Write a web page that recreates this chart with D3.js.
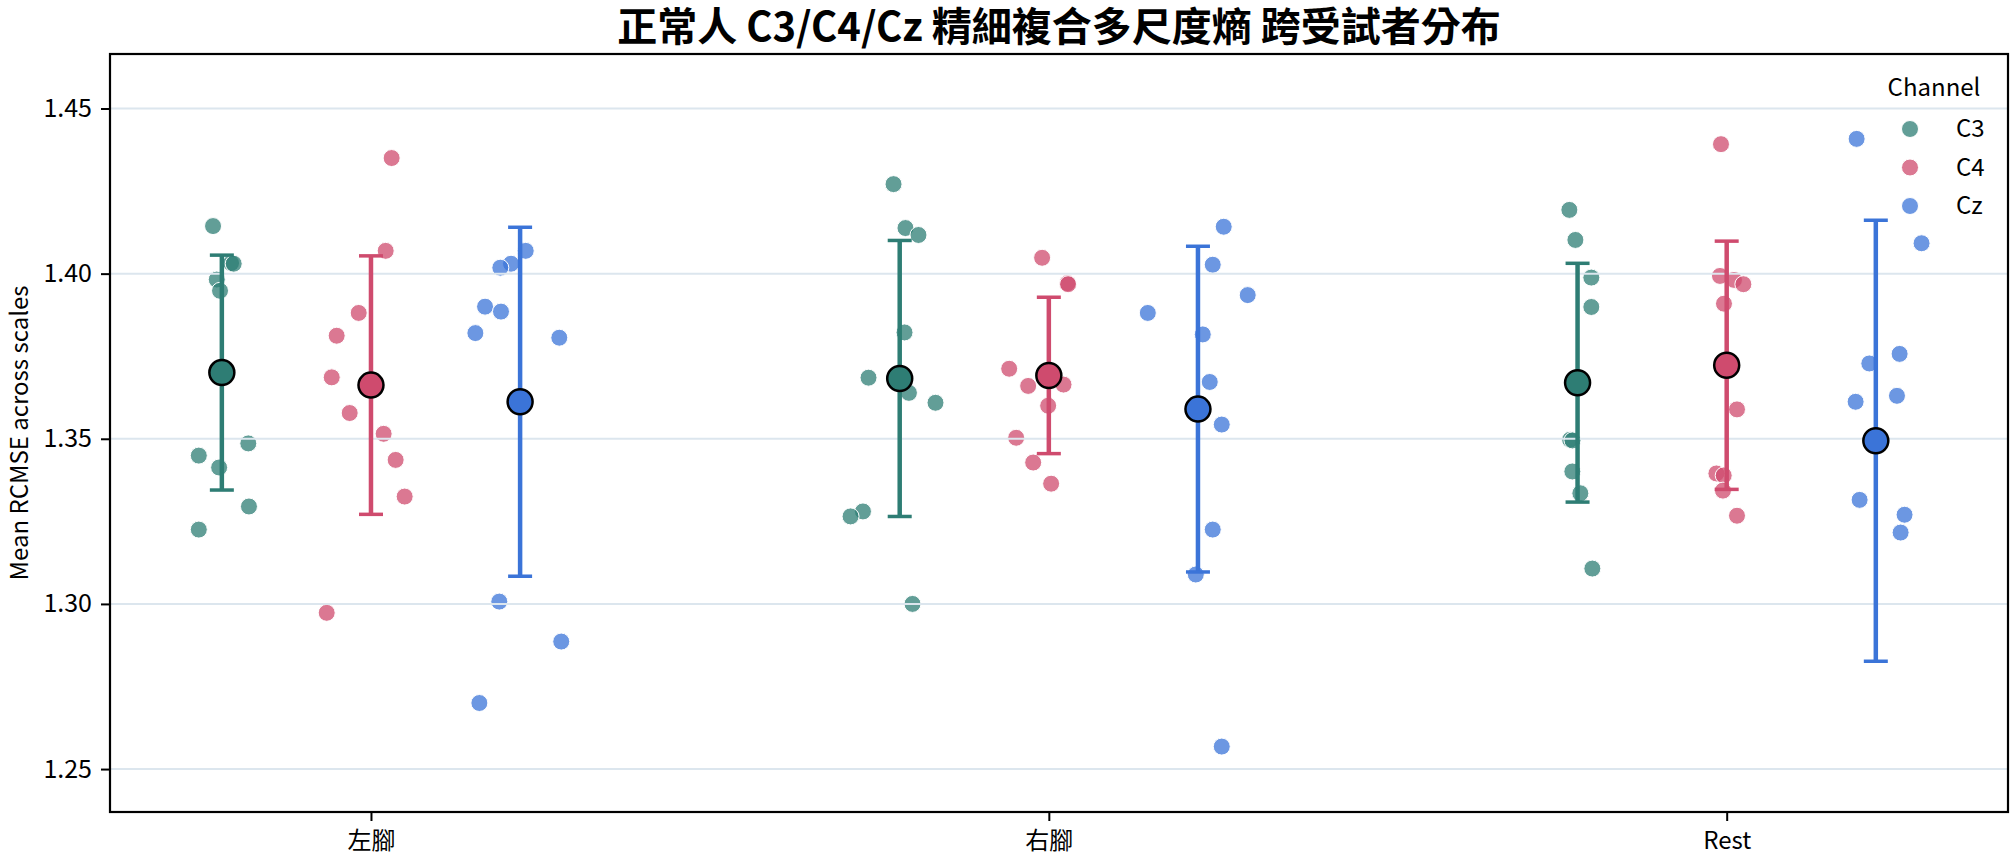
<!DOCTYPE html>
<html>
<head>
<meta charset="utf-8">
<script src="https://cdn.jsdelivr.net/npm/d3@7"></script>
<style>
  body { margin: 0; background: #fff; }
  svg { font-family: "Noto Sans CJK TC", "Noto Sans", sans-serif; }
</style>
</head>
<body>
<div id="chart"></div>
<script>
// categories / series
const categories = ['左腳', '右腳', 'Rest']
const channels = ['C3', 'C4', 'Cz']
const channelColors = ['#2e7d74', '#cf4b6e', '#3b74d8']

// per-subject values, one inner array per category
const c3Values = [
  [1.4144, 1.4032, 1.4030, 1.3982, 1.3948, 1.3486, 1.3449, 1.3413, 1.3295, 1.3225],
  [1.4271, 1.4138, 1.4117, 1.3822, 1.3685, 1.3639, 1.3609, 1.3280, 1.3265, 1.3000],
  [1.4193, 1.4102, 1.3988, 1.3899, 1.3497, 1.3495, 1.3401, 1.3335, 1.3107, 1.3681]
]
const c4Values = [
  [1.4350, 1.4069, 1.3881, 1.3812, 1.3686, 1.3578, 1.3515, 1.3436, 1.3325, 1.2973],
  [1.4048, 1.3971, 1.3968, 1.3712, 1.3660, 1.3664, 1.3600, 1.3503, 1.3428, 1.3364],
  [1.4392, 1.3993, 1.3981, 1.3968, 1.3909, 1.3589, 1.3395, 1.3389, 1.3343, 1.3267]
]
const czValues = [
  [1.4069, 1.4030, 1.4018, 1.3900, 1.3885, 1.3820, 1.3806, 1.3007, 1.2886, 1.2700],
  [1.4142, 1.4027, 1.3935, 1.3881, 1.3816, 1.3672, 1.3543, 1.3225, 1.3089, 1.2568],
  [1.4408, 1.4092, 1.3757, 1.3728, 1.3630, 1.3612, 1.3315, 1.3270, 1.3216, 1.1912]
]

// strip jitter (category units)
const c3Jitter = [
  [-0.013, 0.0136, 0.0175, -0.0075, -0.0027, 0.039, -0.034, -0.004, 0.040, -0.034],
  [-0.0091, 0.0085, 0.0277, 0.0071, -0.046, 0.0136, 0.0528, -0.0542, -0.0725, 0.0189],
  [-0.0121, -0.0032, 0.0203, 0.0203, -0.011, -0.0075, -0.0077, 0.0041, 0.0218, 0.003]
]
const c4Jitter = [
  [0.0305, 0.0217, -0.0181, -0.0506, -0.0579, -0.0314, 0.0187, 0.0364, 0.0497, -0.0653],
  [-0.0099, 0.0276, 0.0284, -0.0585, -0.0305, 0.0217, -0.001, -0.0482, -0.0231, 0.0034],
  [-0.0084, -0.0099, 0.0108, 0.0246, -0.004, 0.0152, -0.0152, -0.0044, -0.0055, 0.0152]
]
const czJitter = [
  [0.0083, -0.0134, -0.0292, -0.0517, -0.0282, -0.066, 0.0578, -0.0307, 0.0607, -0.0601],
  [0.038, 0.0218, 0.0734, -0.074, 0.0071, 0.0174, 0.0351, 0.0218, -0.0032, 0.0351],
  [-0.0283, 0.0675, 0.0351, -0.0096, 0.0312, -0.0298, -0.0239, 0.0424, 0.0366, 0.0]
]

const yTicks = [1.25, 1.30, 1.35, 1.40, 1.45]

const allValues = [c3Values, c4Values, czValues]
const allJitter = [c3Jitter, c4Jitter, czJitter]

let width = 2015
let height = 864
let margin = {top: 54, right: 7, bottom: 52, left: 110}
let dodge = 0.22

let svg = d3.select('#chart').append('svg')
  .attr('width', width)
  .attr('height', height)

let x = d3.scaleLinear()
  .domain([-0.385, 2.415])
  .range([margin.left, width - margin.right])

let y = d3.scaleLinear()
  .domain([1.237, 1.4665])
  .range([height - margin.bottom, margin.top])

svg.append('clipPath').attr('id', 'plotClip')
  .append('rect')
  .attr('x', margin.left).attr('y', margin.top)
  .attr('width', width - margin.left - margin.right)
  .attr('height', height - margin.top - margin.bottom)

let plot = svg.append('g').attr('clip-path', 'url(#plotClip)')

// flatten to point records
let points = []
let summary = []
channels.forEach(function (ch, ci) {
  categories.forEach(function (cat, ki) {
    let vals = allValues[ci][ki]
    vals.forEach(function (v, i) {
      points.push({ci: ci, ki: ki, v: v, j: allJitter[ci][ki][i]})
    })
    let m = d3.mean(vals)
    let sd = d3.deviation(vals)
    summary.push({ci: ci, ki: ki, mean: m, lo: m - sd, hi: m + sd})
  })
})

// strip points (under the grid, like matplotlib)
plot.append('g')
  .selectAll('circle')
  .data(points)
  .enter().append('circle')
  .attr('cx', function (d) { return x(d.ki + (d.ci - 1) * dodge + d.j) })
  .attr('cy', function (d) { return y(d.v) })
  .attr('r', 8.5)
  .attr('fill', function (d) { return channelColors[d.ci] })
  .attr('fill-opacity', 0.75)
  .attr('stroke', '#fff')
  .attr('stroke-width', 1)

// grid
plot.append('g')
  .selectAll('line')
  .data(yTicks)
  .enter().append('line')
  .attr('x1', margin.left).attr('x2', width - margin.right)
  .attr('y1', function (d) { return y(d) }).attr('y2', function (d) { return y(d) })
  .attr('stroke', '#dce6ee')
  .attr('stroke-width', 2)

// error bars (mean ± SD)
let eb = plot.append('g')
  .selectAll('g')
  .data(summary)
  .enter().append('g')
  .attr('stroke', function (d) { return channelColors[d.ci] })

eb.append('line')
  .attr('x1', function (d) { return x(d.ki + (d.ci - 1) * dodge) })
  .attr('x2', function (d) { return x(d.ki + (d.ci - 1) * dodge) })
  .attr('y1', function (d) { return y(d.lo) })
  .attr('y2', function (d) { return y(d.hi) })
  .attr('stroke-width', 4.5)

eb.selectAll('.cap')
  .data(function (d) { return [d, Object.assign({}, d, {lo: d.hi})] })
  .enter().append('line')
  .attr('class', 'cap')
  .attr('x1', function (d) { return x(d.ki + (d.ci - 1) * dodge) - 12 })
  .attr('x2', function (d) { return x(d.ki + (d.ci - 1) * dodge) + 12 })
  .attr('y1', function (d) { return y(d.lo) })
  .attr('y2', function (d) { return y(d.lo) })
  .attr('stroke-width', 3.5)

// mean markers
plot.append('g')
  .selectAll('circle')
  .data(summary)
  .enter().append('circle')
  .attr('cx', function (d) { return x(d.ki + (d.ci - 1) * dodge) })
  .attr('cy', function (d) { return y(d.mean) })
  .attr('r', 12.5)
  .attr('fill', function (d) { return channelColors[d.ci] })
  .attr('stroke', '#000')
  .attr('stroke-width', 2.5)

// axes
let yAxis = svg.append('g')
  .attr('transform', 'translate(' + margin.left + ',0)')
  .call(d3.axisLeft(y).tickValues(yTicks).tickFormat(d3.format('.2f')).tickSize(9).tickPadding(9))
yAxis.select('.domain').remove()
yAxis.selectAll('line').attr('stroke', '#000').attr('stroke-width', 2)
yAxis.selectAll('text').attr('font-size', 25).attr('fill', '#000')
  .attr('font-family', '"Noto Sans CJK TC", sans-serif')

let xAxis = svg.append('g')
  .attr('transform', 'translate(0,' + (height - margin.bottom) + ')')
  .call(d3.axisBottom(x).tickValues([0, 1, 2]).tickFormat(function (d) { return categories[d] }).tickSize(9).tickPadding(11))
xAxis.select('.domain').remove()
xAxis.selectAll('line').attr('stroke', '#000').attr('stroke-width', 2)
xAxis.selectAll('text').attr('font-size', 24).attr('fill', '#000')
  .attr('font-family', '"Noto Sans CJK TC", sans-serif')

// frame
svg.append('rect')
  .attr('x', margin.left).attr('y', margin.top)
  .attr('width', width - margin.left - margin.right)
  .attr('height', height - margin.top - margin.bottom)
  .attr('fill', 'none')
  .attr('stroke', '#000')
  .attr('stroke-width', 2.2)

// labels
svg.append('text')
  .attr('transform', 'translate(28,' + ((margin.top + height - margin.bottom) / 2) + ')rotate(-90)')
  .attr('text-anchor', 'middle')
  .attr('font-size', 24)
  .text('Mean RCMSE across scales')

svg.append('text')
  .attr('x', (margin.left + width - margin.right) / 2)
  .attr('y', 41)
  .attr('text-anchor', 'middle')
  .attr('font-size', 40)
  .attr('font-weight', 'bold')
  .text('正常人 C3/C4/Cz 精細複合多尺度熵 跨受試者分布')

// legend
let legend = svg.append('g')
legend.append('text')
  .attr('x', 1934).attr('y', 96)
  .attr('text-anchor', 'middle')
  .attr('font-size', 24)
  .text('Channel')

let item = legend.selectAll('.item')
  .data(channels)
  .enter().append('g')
  .attr('class', 'item')
  .attr('transform', function (d, i) { return 'translate(0,' + (129 + i * 38.5) + ')' })
item.append('circle')
  .attr('cx', 1910).attr('r', 8.5)
  .attr('fill', function (d, i) { return channelColors[i] })
  .attr('fill-opacity', 0.75)
  .attr('stroke', '#fff')
item.append('text')
  .attr('x', 1956).attr('y', 8)
  .attr('font-size', 24)
  .text(function (d) { return d })
</script>
</body>
</html>
